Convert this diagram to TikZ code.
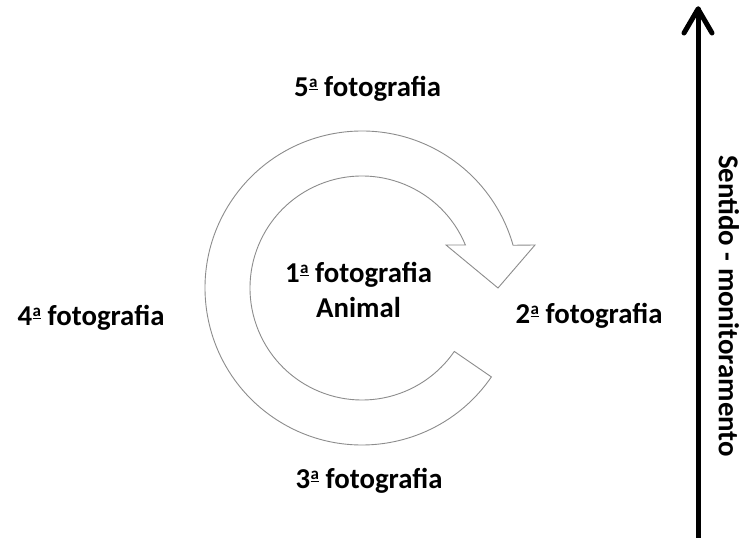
\documentclass[tikz,border=0pt]{standalone}
\usepackage{fontspec}
\setmainfont{Carlito}
\usetikzlibrary{calc}
\newcommand\ordA{\kern0.02em\raisebox{0.34em}{\fontsize{17}{17}\selectfont\underline{a}}}
\begin{document}
\begin{tikzpicture}[x=1pt,y=1pt,
  lbl/.style={font=\bfseries\fontsize{28.8}{35}\selectfont, inner sep=0pt, align=center},
  ringarrow/.style={draw=black!45, line width=0.9pt, fill=white, line join=miter},
  axisline/.style={line width=5pt, line cap=round, line join=round}]
\useasboundingbox (0,0) rectangle (745,538);
% circular arrow
\coordinate (c) at (362,250);
\coordinate (hr) at (535,293);
\coordinate (ht) at (498,250);
\coordinate (hl) at (446,293);
\draw[ringarrow] ($(c)+(-34.5:157)$) arc[start angle=-34.5, end angle=-344.2, radius=157]
  -- (hr) -- (ht) -- (hl) -- ($(c)+(-337.4:112)$)
  arc[start angle=-337.4, end angle=-34.5, radius=112] -- cycle;
% labels
\node[lbl, anchor=base] (f5) at (367.5,441) {5\ordA{} fotografia};
\node[lbl, anchor=base] (f1) at (358.5,220) {1\ordA{} fotografia\\Animal};
\node[lbl, anchor=base] (f2) at (589,214) {2\ordA{} fotografia};
\node[lbl, anchor=base] (f3) at (369,49) {3\ordA{} fotografia};
\node[lbl, anchor=base] (f4) at (91,212) {4\ordA{} fotografia};
% vertical arrow
\coordinate (vb) at (698,-5);
\coordinate (vt) at (698,529);
\draw[axisline] (vb) -- (vt);
\draw[axisline] ($(vt)+(-14,-24)$) -- (vt) -- ($(vt)+(14,-24)$);
\node[lbl, rotate=-90] (sm) at (729,232) {Sentido - monitoramento};
\end{tikzpicture}
\end{document}
